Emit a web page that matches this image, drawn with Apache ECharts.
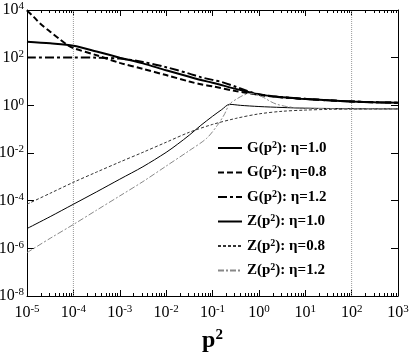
<!DOCTYPE html>
<html>
<head>
<meta charset="utf-8">
<script src="https://cdn.jsdelivr.net/npm/echarts@6/dist/echarts.min.js"></script>
<style>
  html, body { margin: 0; padding: 0; background: #fff; }
  #main { width: 409px; height: 354px; }
</style>
</head>
<body>
<div id="main"></div>
<script>
// values, [p^2, value]
const gEta10 = [[1e-5, 468], [3.16e-5, 398], [1e-4, 316], [3.16e-4, 182], [1e-3, 100], [3.16e-3, 57.5],
  [0.01, 29.5], [0.0316, 15.8], [0.0562, 11.5], [0.1, 8.91], [0.316, 4.9], [0.562, 3.72], [1, 2.88],
  [2.51, 2.29], [7.94, 1.91], [31.6, 1.62], [100, 1.45], [316, 1.35], [1000, 1.29]]
const gEta08 = [[1e-5, 9550], [1.41e-5, 5010], [2e-5, 2510], [3.16e-5, 1230], [5.01e-5, 603], [7.24e-5, 355],
  [1e-4, 251], [3.16e-4, 126], [1e-3, 60.3], [3.16e-3, 33.9], [0.01, 18.6], [0.0316, 10], [0.0562, 7.59],
  [0.1, 6.31], [0.316, 3.98], [0.562, 3.31], [1, 2.75], [2.51, 2.24], [7.94, 1.91], [31.6, 1.62],
  [100, 1.45], [316, 1.35], [1000, 1.29]]
const gEta12 = [[1e-5, 102], [1e-4, 102], [3.16e-4, 100], [1e-3, 91.2], [3.16e-3, 66.1], [0.01, 39.8],
  [0.0316, 21.4], [0.0562, 15.1], [0.1, 11.7], [0.158, 9.55], [0.316, 6.03], [0.562, 3.98], [1, 2.95],
  [2.51, 2.29], [7.94, 1.91], [31.6, 1.62], [100, 1.45], [316, 1.35], [1000, 1.29]]
const zEta10 = [[1e-5, 6.76e-6], [3.16e-5, 2.14e-5], [1e-4, 7.08e-5], [3.16e-4, 2.34e-4], [1e-3, 7.94e-4],
  [3.16e-3, 2.66e-3], [0.01, 0.0106], [0.0178, 0.0237], [0.0316, 0.0562], [0.0562, 0.145],
  [0.1, 0.347], [0.158, 0.661], [0.234, 1.1], [0.398, 1.0], [1, 0.891], [3.16, 0.813], [10, 0.759],
  [100, 0.724], [1000, 0.708]]
const zEta08 = [[1e-5, 7.08e-5], [3.16e-5, 2.04e-4], [1e-4, 5.89e-4], [3.16e-4, 1.58e-3], [1e-3, 4.17e-3],
  [3.16e-3, 0.0107], [0.01, 0.0282], [0.0316, 0.0741], [0.1, 0.158], [0.316, 0.282], [1, 0.437],
  [3.16, 0.562], [10, 0.631], [31.6, 0.676], [100, 0.692], [1000, 0.708]]
const zEta12 = [[1e-5, 6.61e-7], [3.16e-5, 2.63e-6], [1e-4, 1e-5], [3.16e-4, 3.98e-5], [1e-3, 1.58e-4],
  [3.16e-3, 6.31e-4], [0.01, 2.82e-3], [0.0316, 0.0126], [0.0741, 0.0407], [0.126, 0.141], [0.178, 0.398],
  [0.234, 1.12], [0.355, 2.0], [0.501, 2.82], [0.646, 3.16], [0.891, 2.82], [1.26, 2.14], [1.78, 1.45],
  [2.4, 1.12], [3.98, 0.891], [7.94, 0.776], [31.6, 0.724], [100, 0.708], [1000, 0.708]]

// dotted guides at these p^2, drawn over the full y range
const guideLines = [1e-4, 100]
const yRange = [1e-8, 1e4]

const legendText = {
  g10: ['G', '1.0'], g08: ['G', '0.8'], g12: ['G', '1.2'],
  z10: ['Z', '1.0'], z08: ['Z', '0.8'], z12: ['Z', '1.2'],
}

const serif = 'Liberation Serif, Times New Roman, serif'

function powLabel(v) {
  const e = Math.round(Math.log10(v))
  return '{b|10}{s|' + e + '}'
}

const powRich = {
  b: { fontSize: 16, fontFamily: serif, color: '#000', lineHeight: 18 },
  s: { fontSize: 11, fontFamily: serif, color: '#000', verticalAlign: 'top', lineHeight: 18, padding: [0, 0, 8, 0] },
}

function line(name, data, width, color, dash) {
  return {
    name, type: 'line', data,
    smooth: 0.3, symbol: 'none', z: 3,
    lineStyle: { width, color, type: dash },
    itemStyle: { color },
  }
}

const series = [
  line('g10', gEta10, 2, '#000', 'solid'),
  line('g08', gEta08, 2, '#000', [6, 3]),
  line('g12', gEta12, 2, '#000', [9, 3, 3, 3]),
  line('z10', zEta10, 1, '#000', 'solid'),
  line('z08', zEta08, 1, '#333', [3, 2]),
  line('z12', zEta12, 1, '#888', [6, 2, 2, 2]),
]
guideLines.forEach(v => {
  series.push({
    type: 'line', silent: true, symbol: 'none', z: 1,
    data: yRange.map(y => [v, y]),
    lineStyle: { type: [1, 1], color: '#999', width: 1 },
  })
})

const xCommon = {
  type: 'log', logBase: 10, min: 1e-5, max: 1e3, interval: 1,
  axisLine: { lineStyle: { color: '#000', width: 1 } },
  axisTick: { inside: true, length: 6, lineStyle: { color: '#000' } },
  minorTick: { show: true, splitNumber: 9, length: 3, lineStyle: { color: '#000' } },
  splitLine: { show: false },
}
const yCommon = {
  type: 'log', logBase: 10, min: 1e-8, max: 1e4, interval: 2,
  axisLine: { lineStyle: { color: '#000', width: 1 } },
  axisTick: { inside: true, length: 7, lineStyle: { color: '#000' } },
  splitLine: { show: false },
}

const chart = echarts.init(document.getElementById('main'))
chart.setOption({
  animation: false,
  backgroundColor: '#fff',
  grid: { left: 27, right: 11, top: 10, bottom: 58, containLabel: false, outerBoundsMode: 'none' },
  legend: {
    orient: 'vertical', left: 217, top: 140, padding: 0,
    itemWidth: 24, itemHeight: 14, itemGap: 7.5,
    data: Object.keys(legendText),
    itemStyle: { opacity: 0, borderWidth: 0 },
    formatter: name => '{t|' + legendText[name][0] + '(p}{s|2}{t|): η=' + legendText[name][1] + '}',
    textStyle: {
      rich: {
        t: { fontSize: 15, fontWeight: 'bold', fontFamily: serif, color: '#000', lineHeight: 16 },
        s: { fontSize: 10, fontWeight: 'bold', fontFamily: serif, color: '#000', verticalAlign: 'top', lineHeight: 16, padding: [0, 0, 7, 0] },
      },
    },
  },
  xAxis: [
    Object.assign({}, xCommon, {
      position: 'bottom',
      axisLabel: { formatter: powLabel, rich: powRich, margin: 8 },
      name: '{p|p}{s|2}', nameLocation: 'middle', nameGap: 28,
      nameTextStyle: {
        rich: {
          p: { fontSize: 24, fontWeight: 'bold', fontFamily: serif, color: '#000', lineHeight: 26 },
          s: { fontSize: 15, fontWeight: 'bold', fontFamily: serif, color: '#000', verticalAlign: 'top', lineHeight: 26, padding: [0, 0, 12, 0] },
        },
      },
    }),
    Object.assign({}, xCommon, { position: 'top', axisLabel: { show: false } }),
  ],
  yAxis: [
    Object.assign({}, yCommon, {
      position: 'left',
      axisLabel: { formatter: powLabel, rich: powRich, margin: 3 },
    }),
    Object.assign({}, yCommon, { position: 'right', axisLabel: { show: false } }),
  ],
  series,
})
</script>
</body>
</html>
